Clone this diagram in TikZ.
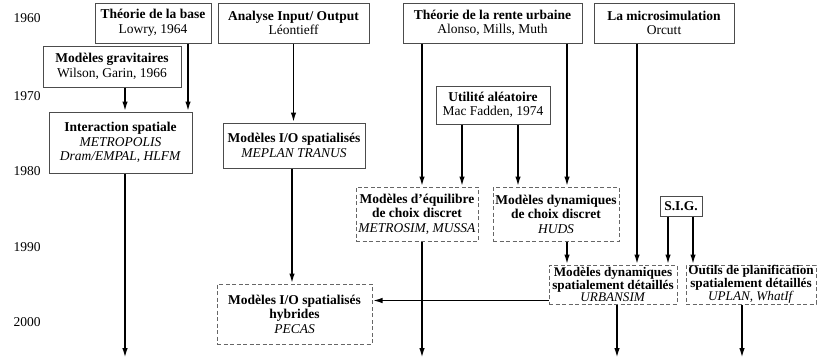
\documentclass[tikz,border=0pt]{standalone}
\usepackage{fontspec}
\setmainfont{Liberation Serif}
\usepackage{tikz}
\usetikzlibrary{arrows.meta,calc,positioning}
\tikzset{
  box/.style={draw=black!70, line width=1pt, align=center, inner sep=1pt, font=\fontsize{13.5}{14.5}\selectfont},
  dbox/.style={box, draw=black!60, dashed, dash pattern=on 4pt off 2.5pt},
  tight/.style={font=\fontsize{13.2}{11.4}\selectfont, inner sep=0pt},
  edge/.style={-{Latex[length=10pt,width=5.5pt]}, line width=1.8pt},
  year/.style={font=\fontsize{13.5}{14.5}\selectfont}
}

\begin{document}
\begin{tikzpicture}[x=1pt,y=-1pt]
    \useasboundingbox (0,0) rectangle (817,362);

    % Years
    \foreach \yr/\yy in {1960/18,1970/96,1980/171,1990/247,2000/322}
      \node[year] (y\yr) at (27,\yy) {\yr};

    % Theories (1960)
    \node[box, minimum width=116pt, minimum height=40pt] (base) at (153,23) {\textbf{Théorie de la base}\\Lowry, 1964};
    \node[box, minimum width=151pt, minimum height=40pt] (io) at (293.5,23) {\textbf{Analyse Input/ Output}\\Léontieff};
    \node[box, minimum width=179pt, minimum height=40pt] (rente) at (492.5,23) {\textbf{Théorie de la rente urbaine}\\Alonso, Mills, Muth};
    \node[box, minimum width=140pt, minimum height=40pt] (micro) at (664,23) {\textbf{La microsimulation}\\Orcutt};
    \node[box, minimum width=138pt, minimum height=41pt] (grav) at (112,66.5) {\textbf{Modèles gravitaires}\\Wilson, Garin, 1966};
    \node[box, minimum width=114pt, minimum height=38pt] (util) at (493,105) {\textbf{Utilité aléatoire}\\Mac Fadden, 1974};

    % Models
    \node[box, minimum width=143pt, minimum height=61pt] (inter) at (120.5,142.5) {\textbf{Interaction spatiale}\\\textit{METROPOLIS}\\\textit{Dram/EMPAL, HLFM}};
    \node[box, minimum width=142pt, minimum height=45pt] (iosp) at (294,145.5) {\textbf{Modèles I/O spatialisés}\\\textit{MEPLAN TRANUS}};
    \node[dbox, minimum width=122pt, minimum height=54pt] (equi) at (417,214) {\textbf{Modèles d’équilibre}\\\textbf{de choix discret}\\\textit{METROSIM, MUSSA}};
    \node[dbox, minimum width=126pt, minimum height=54pt] (dynch) at (556,214) {\textbf{Modèles dynamiques}\\\textbf{de choix discret}\\\textit{HUDS}};
    \node[box, minimum width=42pt, minimum height=20pt] (sig) at (681,206) {\textbf{S.I.G.}};
    \node[dbox, tight, minimum width=128pt, minimum height=39pt] (dynsp) at (613,284.5) {\textbf{Modèles dynamiques}\\\textbf{spatialement détaillés}\\\textit{URBANSIM}};
    \node[dbox, tight, minimum width=130pt, minimum height=39pt] (outils) at (751,284.5) {\textbf{Outils de planification}\\\textbf{spatialement détaillés}\\\textit{UPLAN, WhatIf}};
    \node[dbox, minimum width=155pt, minimum height=60pt] (hybr) at (294.5,314) {\textbf{Modèles I/O spatialisés}\\\textbf{hybrides}\\\textit{PECAS}};

    \coordinate (bot) at (0,358);

    % Links
    \draw[edge] ([xshift=13pt]grav.south) -- ([xshift=13pt]grav.south |- inter.north);
    \draw[edge] ([xshift=35pt]base.south) -- ([xshift=35pt]base.south |- inter.north);
    \draw[edge] (io.south) -- (io.south |- iosp.north);
    \draw[edge] ([xshift=-2pt]iosp.south) -- ([xshift=-2pt]iosp.south |- hybr.north);
    \draw[edge] ([xshift=5pt]equi.north |- rente.south) -- ([xshift=5pt]equi.north);
    \draw[edge] ([xshift=45pt]equi.north |- util.south) -- ([xshift=45pt]equi.north);
    \draw[edge] ([xshift=-38pt]dynch.north |- util.south) -- ([xshift=-38pt]dynch.north);
    \draw[edge] ([xshift=11pt]dynch.north |- rente.south) -- ([xshift=11pt]dynch.north);
    \draw[edge] ([xshift=24pt]dynsp.north |- micro.south) -- ([xshift=24pt]dynsp.north);
    \draw[edge] ([xshift=11pt]dynch.south) -- ([xshift=11pt]dynch.south |- dynsp.north);
    \draw[edge] ([xshift=55pt]dynsp.north |- sig.south) -- ([xshift=55pt]dynsp.north);
    \draw[edge] ([xshift=-58pt]outils.north |- sig.south) -- ([xshift=-58pt]outils.north);
    \draw[edge] ([yshift=-16pt]dynsp.west) -- ([yshift=-16pt]dynsp.west -| hybr.east);

    % Towards today
    \draw[edge] ([xshift=4.5pt]inter.south) -- ([xshift=4.5pt]inter.south |- bot);
    \draw[edge] ([xshift=5pt]equi.south) -- ([xshift=5pt]equi.south |- bot);
    \draw[edge] ([xshift=4pt]dynsp.south) -- ([xshift=4pt]dynsp.south |- bot);
    \draw[edge] ([xshift=-9pt]outils.south) -- ([xshift=-9pt]outils.south |- bot);
\end{tikzpicture}
\end{document}
